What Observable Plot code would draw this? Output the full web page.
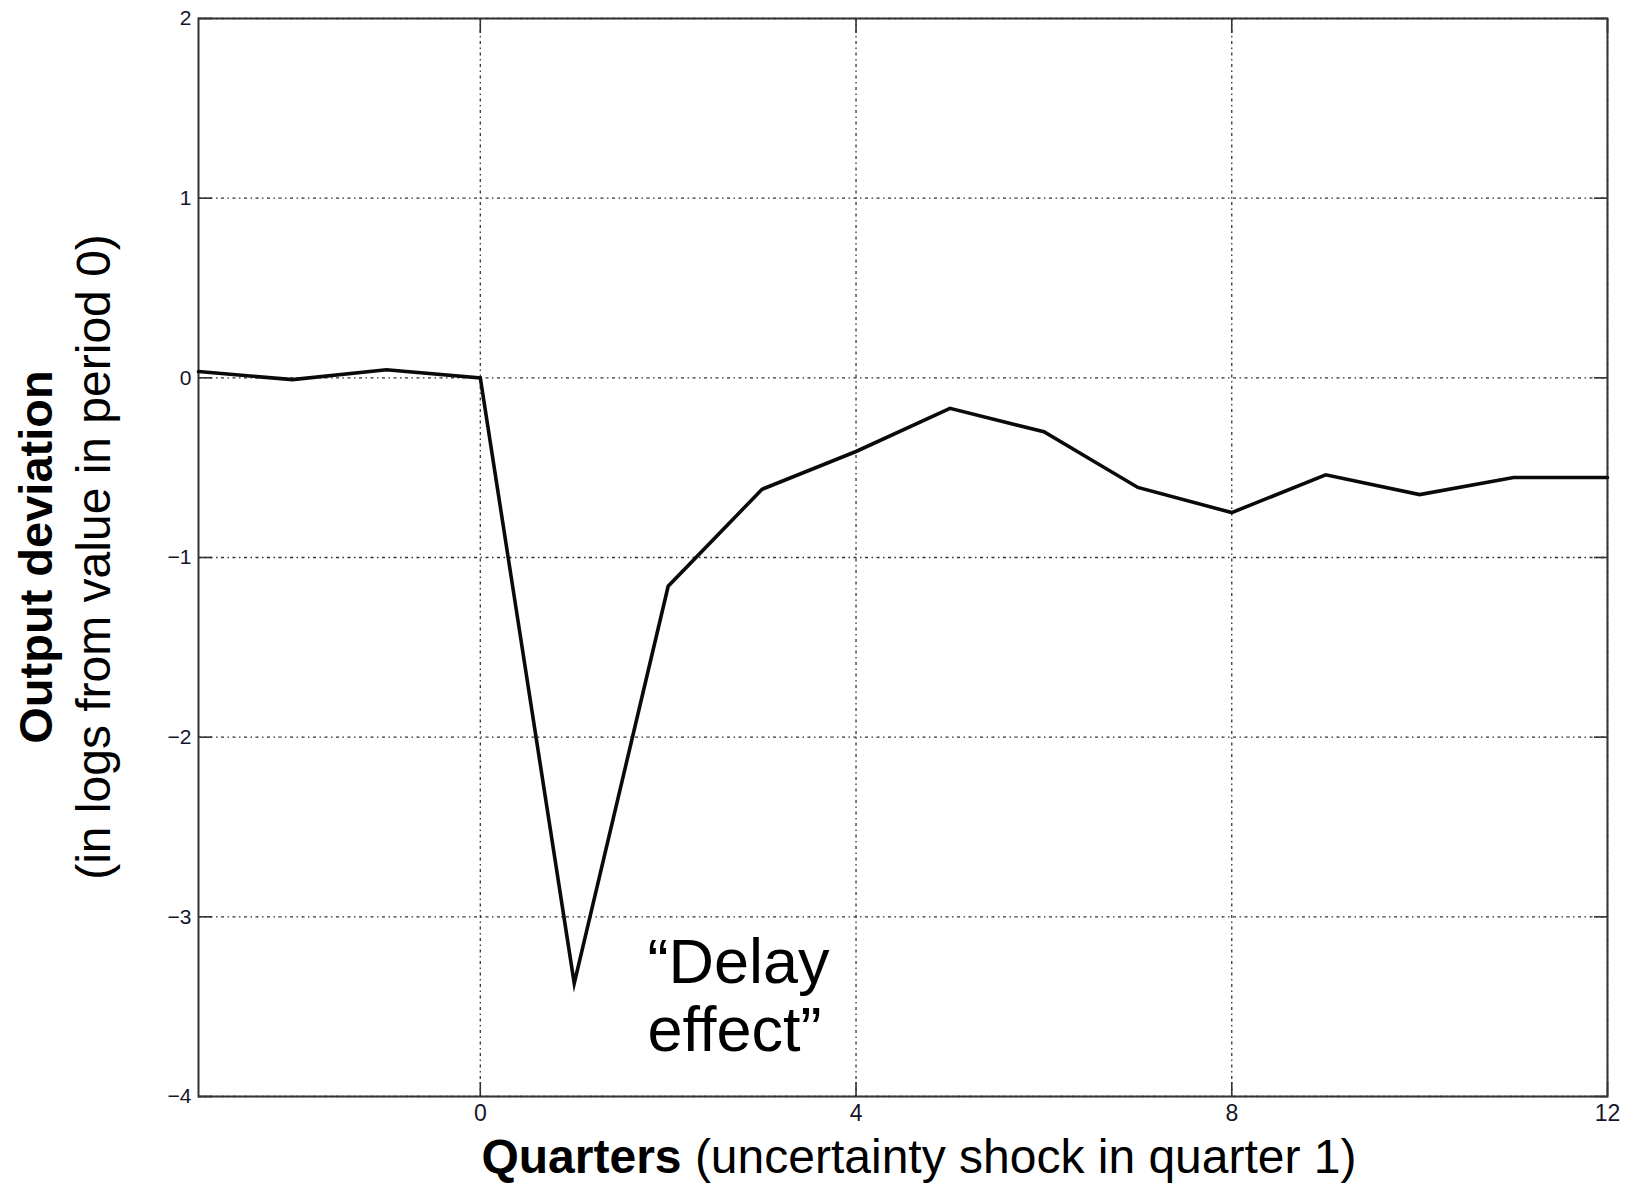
<!DOCTYPE html>
<html>
<head>
<meta charset="utf-8">
<script src="https://cdn.jsdelivr.net/npm/d3@7"></script>
<script src="https://cdn.jsdelivr.net/npm/@observablehq/plot@0.6"></script>
<style>
  html, body { margin: 0; padding: 0; background: #fff; }
  #chart svg { display: block; }
</style>
</head>
<body>
<div id="chart"></div>
<script>
// ---- data ----
const quarters = [-3, -2, -1, 0, 1, 2, 3, 4, 5, 6, 7, 8, 9, 10, 11, 12];
const outputDeviation = [0.035, -0.01, 0.045, 0, -3.37, -1.16, -0.62, -0.41, -0.17, -0.30, -0.61, -0.75, -0.54, -0.65, -0.555, -0.555];
const xTicks = [0, 4, 8, 12];
const yTicks = [-4, -3, -2, -1, 0, 1, 2];
const xDomain = [-3, 12];
const yDomain = [-4, 2];
const annotationX = [1.78];
const annotationY = [-3.1];
const annotationText = ["“Delay\neffect”"];
const xTitleBold = "Quarters";
const xTitleRest = " (uncertainty shock in quarter 1)";
const yTitleBold = "Output deviation";
const yTitleRest = "(in logs from value in period 0)";

const series = quarters.map((q, i) => ({q, v: outputDeviation[i]}));
const notes = annotationText.map((t, i) => ({x: annotationX[i], y: annotationY[i], text: t}));

const W = 1625, H = 1185;
const font = "Liberation Sans, Arial, Helvetica, sans-serif";
const gridStyle = {stroke: "#333", strokeOpacity: 1, strokeWidth: 1.3, strokeDasharray: "3,3.5,1.5,3.5"};
const tickStyle = {tickFormat: () => "", stroke: "#333", strokeWidth: 1.6, tickSize: 14};
const fmt = d => String(d).replace("-", "\u2212");

const plot = Plot.plot({
  width: W,
  height: H,
  marginLeft: 198,
  marginRight: 18,
  marginTop: 18,
  marginBottom: 89,
  style: {fontFamily: font, background: "#fff", color: "#15152a"},
  x: {domain: xDomain, ticks: xTicks, label: null},
  y: {domain: yDomain, ticks: yTicks, label: null},
  marks: [
    Plot.gridX(xTicks, gridStyle),
    Plot.gridY(yTicks, gridStyle),
    // inward ticks on all four sides (drawn outward, then shifted inside the frame)
    Plot.axisX(xTicks, {anchor: "bottom", dy: -14, ...tickStyle}),
    Plot.axisX(xTicks, {anchor: "top", dy: 14, ...tickStyle}),
    Plot.axisY(yTicks, {anchor: "left", dx: 14, ...tickStyle}),
    Plot.axisY(yTicks, {anchor: "right", dx: -14, ...tickStyle}),
    // tick labels
    Plot.axisX(xTicks, {anchor: "bottom", tickSize: 0, tickPadding: 8, tickFormat: fmt, fontSize: 23}),
    Plot.axisY(yTicks, {anchor: "left", tickSize: 0, tickPadding: 7, tickFormat: fmt, fontSize: 21}),
    Plot.frame({stroke: "#333", strokeWidth: 2}),
    Plot.line(series, {x: "q", y: "v", stroke: "#0a0a0a", strokeWidth: 3.6, strokeLinejoin: "miter", strokeMiterlimit: 10}),
    Plot.text(notes, {x: "x", y: "y", text: "text", textAnchor: "start", lineAnchor: "top", fontSize: 63, lineHeight: 1.08, fill: "#000", fontFamily: font})
  ]
});

const svg = d3.select(plot);

// make sure tick-label sizes are applied on the text elements themselves
svg.selectAll("g[aria-label='x-axis tick label'] text").attr("font-size", 23).style("font-size", "23px");
svg.selectAll("g[aria-label='y-axis tick label'] text").attr("font-size", 21).style("font-size", "21px");

// x-axis title (bold + regular parts)
const xt = svg.append("text")
  .attr("x", 919).attr("y", 1173)
  .attr("text-anchor", "middle")
  .attr("font-family", font)
  .attr("font-size", 48)
  .attr("fill", "#000");
xt.append("tspan").attr("font-weight", "bold").text(xTitleBold);
xt.append("tspan").text(xTitleRest);

// y-axis title (two rotated lines)
svg.append("text")
  .attr("transform", "translate(52,557) rotate(-90)")
  .attr("text-anchor", "middle")
  .attr("font-family", font)
  .attr("font-size", 47)
  .attr("font-weight", "bold")
  .attr("fill", "#000")
  .text(yTitleBold);
svg.append("text")
  .attr("transform", "translate(110,557) rotate(-90)")
  .attr("text-anchor", "middle")
  .attr("font-family", font)
  .attr("font-size", 48)
  .attr("fill", "#000")
  .text(yTitleRest);

document.getElementById("chart").appendChild(plot);
</script>
</body>
</html>
